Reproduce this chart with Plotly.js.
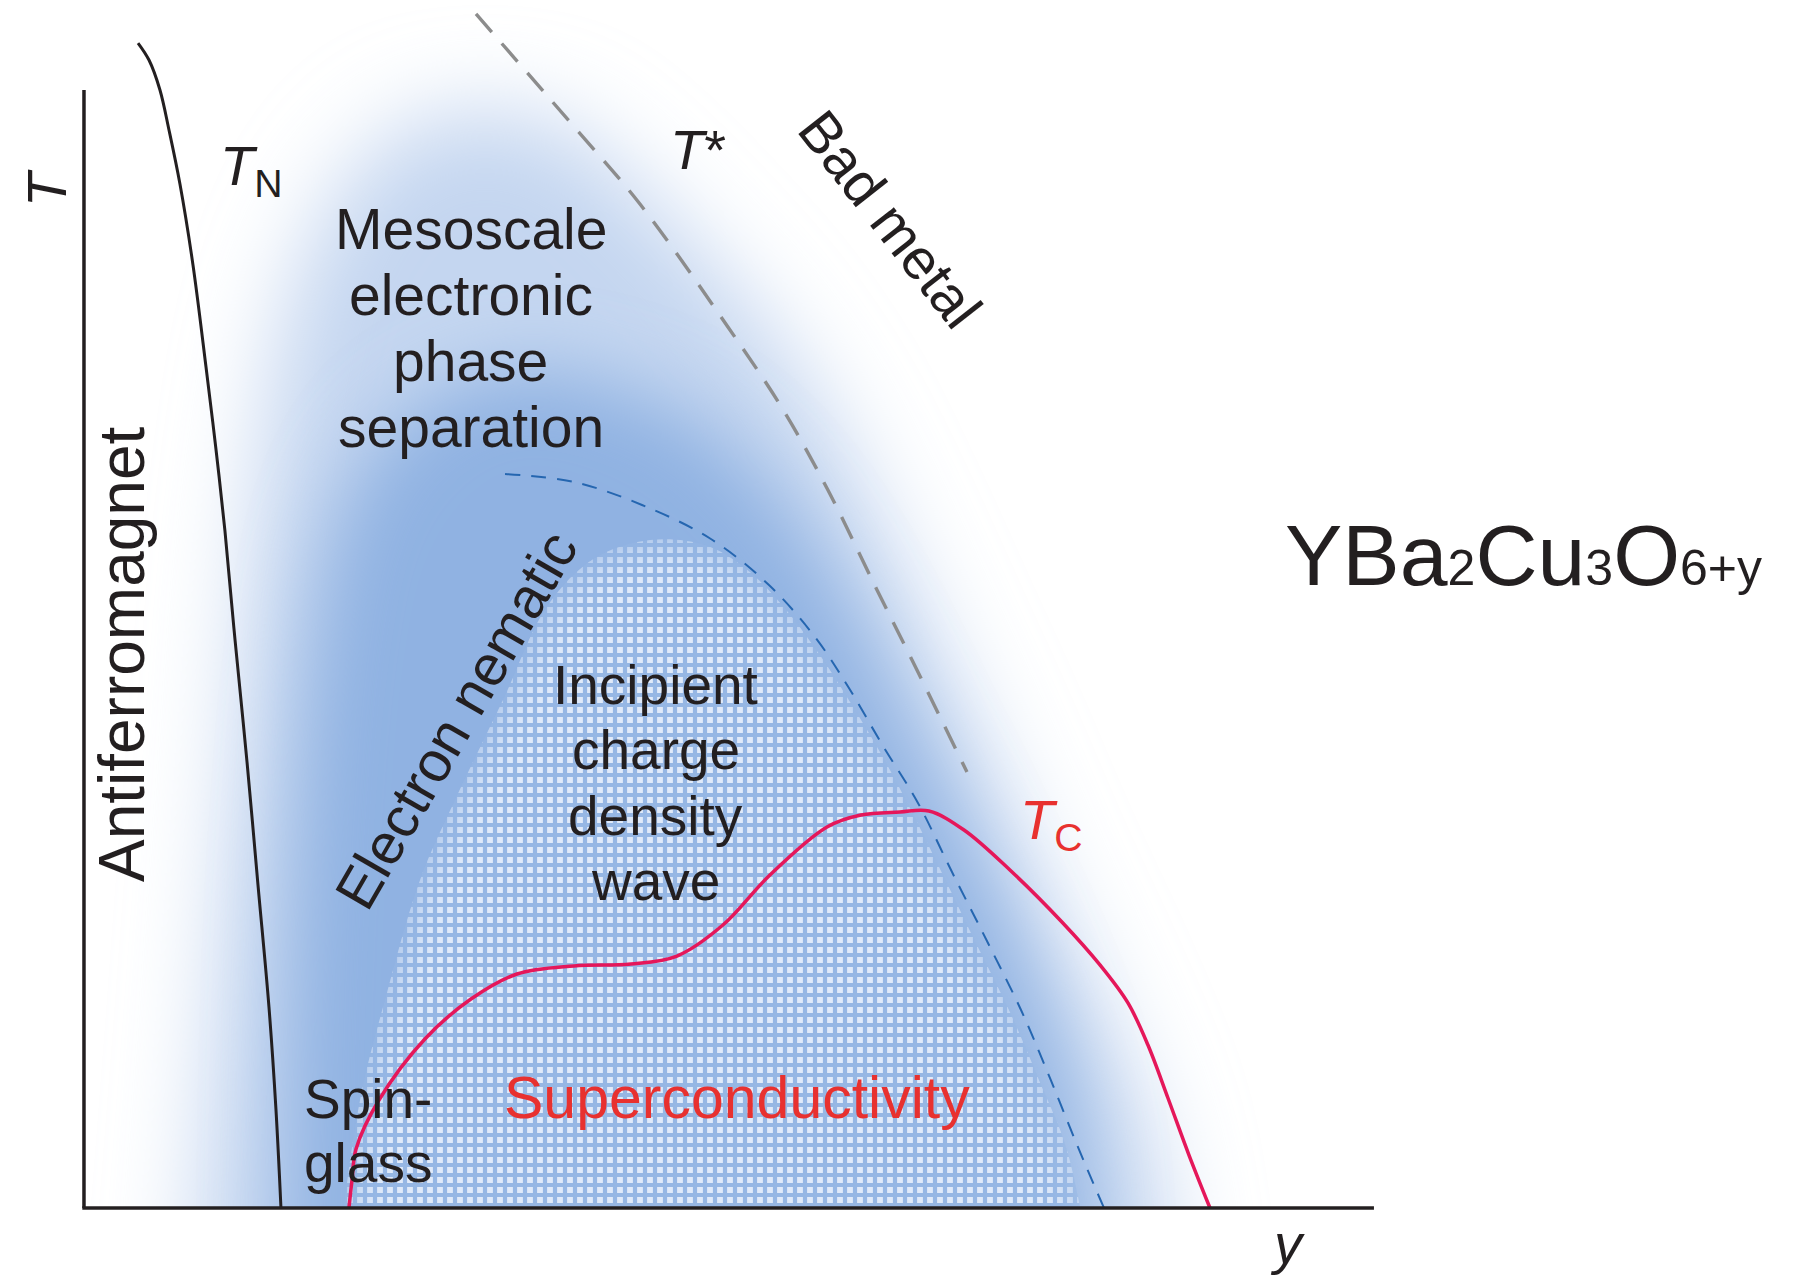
<!DOCTYPE html>
<html>
<head>
<meta charset="utf-8">
<script src="https://cdn.plot.ly/plotly-3.0.1.min.js"></script>
<style>
  html, body { margin: 0; padding: 0; background: #ffffff; }
  #chart { width: 1799px; height: 1279px; }
</style>
</head>
<body>
<div id="chart"></div>
<script>
// Schematic phase diagram of YBa2Cu3O6+y.
// Horizontal coordinate: doping y as a fraction of the drawn axis length.
// Vertical coordinate: temperature T as a fraction of the drawn axis height.

// Neel temperature T_N
const tnDoping = [0.0419, 0.0504, 0.0589, 0.0659, 0.0744, 0.0845, 0.0946, 0.1023, 0.1093, 0.1171, 0.1264, 0.1349, 0.1434, 0.1488, 0.1527];
const tnTemp   = [1.0420, 1.0268, 1.0000, 0.9642, 0.9159, 0.8435, 0.7522, 0.6789, 0.6055, 0.5081, 0.3989, 0.2889, 0.1798, 0.0886, 0.0000];

// Pseudogap crossover T*
const tStarDoping = [0.3039, 0.3767, 0.4310, 0.4992, 0.5411, 0.5767, 0.6140, 0.6419, 0.6845];
const tStarTemp   = [1.0680, 0.9714, 0.8980, 0.7880, 0.7156, 0.6422, 0.5546, 0.4902, 0.3900];

// Charge density wave dome (blue dashed)
const cdwDoping = [0.3264, 0.3798, 0.4326, 0.4860, 0.5310, 0.5667, 0.5930, 0.6194, 0.6465, 0.6729, 0.7000, 0.7264, 0.7488, 0.7705, 0.7907];
const cdwTemp   = [0.6565, 0.6494, 0.6288, 0.5984, 0.5572, 0.5107, 0.4651, 0.4132, 0.3623, 0.3005, 0.2388, 0.1771, 0.1163, 0.0546, 0.0000];

// Superconducting transition T_c
const tcDoping = [0.2054, 0.2078, 0.2109, 0.2287, 0.2643, 0.3000, 0.3357, 0.3798, 0.4240, 0.4597, 0.4953, 0.5310, 0.5760, 0.6023, 0.6326, 0.6550, 0.6822, 0.7178, 0.7581, 0.7876, 0.8093, 0.8248, 0.8403, 0.8566, 0.8729];
const tcTemp   = [0.0000, 0.0250, 0.0528, 0.0966, 0.1512, 0.1869, 0.2093, 0.2165, 0.2182, 0.2254, 0.2531, 0.2970, 0.3408, 0.3515, 0.3542, 0.3551, 0.3381, 0.3023, 0.2558, 0.2174, 0.1834, 0.1458, 0.0984, 0.0474, 0.0000];

// Outline of the diffuse electronic phase-separation region (outer glow)
const hazeDoping = [0.0822, 0.1016, 0.1132, 0.1326, 0.1597, 0.1984, 0.2527, 0.3147, 0.3690, 0.4155, 0.4775, 0.5318, 0.5783, 0.6171, 0.6558, 0.6946, 0.7411, 0.7876, 0.8264, 0.8457];
const hazeTemp   = [-0.100, 0.1860, 0.3649, 0.6333, 0.8122, 0.9106, 0.9687, 0.9821, 0.9687, 0.9284, 0.8569, 0.7853, 0.7048, 0.6154, 0.5170, 0.4186, 0.2934, 0.1771, 0.0608, -0.100];

// Denser core of the same region
const coreDoping = [0.1558, 0.1597, 0.1674, 0.1791, 0.1984, 0.2333, 0.2837, 0.3457, 0.4078, 0.4698, 0.5240, 0.5705, 0.6093, 0.6481, 0.6907, 0.7333, 0.7682, 0.7798];
const coreTemp   = [-0.100, 0.1860, 0.3649, 0.5081, 0.6154, 0.6869, 0.7317, 0.7496, 0.7361, 0.7048, 0.6512, 0.5796, 0.4991, 0.4097, 0.3113, 0.2039, 0.0877, -0.100];

// Region filled with the incipient charge-order texture
const cdwZoneDoping = [0.1946, 0.2140, 0.2333, 0.2605, 0.2876, 0.3248, 0.3597, 0.3961, 0.4388, 0.4814, 0.5124, 0.5411, 0.5705, 0.5953, 0.6171, 0.6403, 0.6659, 0.6922, 0.7178, 0.7403, 0.7620, 0.7814];
const cdwZoneTemp   = [-0.060, 0.0966, 0.1860, 0.2934, 0.3649, 0.4544, 0.5394, 0.5814, 0.5975, 0.5930, 0.5725, 0.5394, 0.4946, 0.4499, 0.4079, 0.3578, 0.2979, 0.2352, 0.1753, 0.1145, 0.0519, -0.060];

// Region labels
const mesoLines = ['Mesoscale', 'electronic', 'phase', 'separation'];
const cdwLines = ['Incipient', 'charge', 'density', 'wave'];
const spinLines = ['Spin-', 'glass'];

const INK = '#231f20';
const RED = '#e8312f';
const FONT = 'Liberation Sans, Arial, Helvetica, sans-serif';

const traces = [
  { type: 'scatter', mode: 'lines', x: hazeDoping, y: hazeTemp, fill: 'toself',
    fillcolor: 'rgb(196,214,240)', line: { width: 0, shape: 'spline', smoothing: 1 }, hoverinfo: 'skip' },
  { type: 'scatter', mode: 'lines', x: coreDoping, y: coreTemp, fill: 'toself',
    fillcolor: 'rgb(144,178,226)', line: { width: 0, shape: 'spline', smoothing: 1 }, hoverinfo: 'skip' },
  { type: 'scatter', mode: 'lines', x: cdwZoneDoping, y: cdwZoneTemp, fill: 'toself',
    fillcolor: 'rgba(0,0,0,0)',
    fillpattern: { shape: '+', size: 10, solidity: 0.66, fgcolor: 'rgb(150,183,228)', bgcolor: 'rgb(224,234,249)', fillmode: 'replace' },
    line: { width: 0, shape: 'spline', smoothing: 1 }, hoverinfo: 'skip' },
  { type: 'scatter', mode: 'lines', x: tnDoping, y: tnTemp,
    line: { color: INK, width: 3, shape: 'spline', smoothing: 1 } },
  { type: 'scatter', mode: 'lines', x: tStarDoping, y: tStarTemp,
    line: { color: '#8c8c8c', width: 3.4, dash: '24px,15px', shape: 'spline', smoothing: 1 } },
  { type: 'scatter', mode: 'lines', x: cdwDoping, y: cdwTemp,
    line: { color: '#2566b0', width: 2, dash: '15px,11px', shape: 'spline', smoothing: 1 } },
  { type: 'scatter', mode: 'lines', x: tcDoping, y: tcTemp,
    line: { color: '#e5175a', width: 3.5, shape: 'spline', smoothing: 1 } }
];

const annotations = [];
function label(text, x, y, size, opts) {
  annotations.push(Object.assign({
    text: text, x: x, y: y, xref: 'x', yref: 'y', showarrow: false,
    xanchor: 'center', yanchor: 'middle',
    font: { family: FONT, size: size, color: INK }
  }, opts || {}));
}
function stack(lines, x, yFirst, step, size, opts) {
  lines.forEach((t, i) => label(t, x, yFirst - i * step, size, opts));
}

label('<i>T</i>', -0.0295, 0.9123, 56, { textangle: -90 });
label('<i>y</i>', 0.9326, -0.0315, 56);
label('<i>T</i><sub>N</sub>', 0.1300, 0.9290, 56);
label('<i>T</i>*', 0.4760, 0.9470, 56);
label('Bad metal', 0.6250, 0.8845, 57, { textangle: 52 });
stack(mesoLines, 0.3000, 0.8757, 0.0590, 57);
label('Antiferromagnet', 0.0295, 0.4955, 64, { textangle: -90 });
label('Electron nematic', 0.2884, 0.4365, 57, { textangle: -60 });
stack(cdwLines, 0.4434, 0.4678, 0.0585, 55);
stack(spinLines, 0.2202, 0.0975, 0.0570, 55);
label('Superconductivity', 0.5062, 0.0984, 59, { font: { family: FONT, size: 59, color: RED } });
label('<i>T</i><sub>C</sub>', 0.7500, 0.3440, 56, { font: { family: FONT, size: 56, color: RED } });
label('YBa<span style="font-size:50px">2</span>Cu<span style="font-size:50px">3</span>O<span style="font-size:50px">6+y</span>',
      0.9295, 0.5841, 86, { xanchor: 'left' });

const shapes = [
  // keep the glow from spilling below the doping axis
  { type: 'rect', xref: 'x', yref: 'y', x0: -0.2, x1: 1.5, y0: -0.3, y1: 0, layer: 'above',
    fillcolor: '#ffffff', line: { width: 0 } },
  // axes
  { type: 'line', xref: 'x', yref: 'y', x0: 0, x1: 0, y0: 0, y1: 1, layer: 'above',
    line: { color: INK, width: 3.5 } },
  { type: 'line', xref: 'x', yref: 'y', x0: -0.0013, x1: 1, y0: 0, y1: 0, layer: 'above',
    line: { color: INK, width: 3.5 } }
];

const layout = {
  width: 1799, height: 1279,
  margin: { l: 0, r: 0, t: 0, b: 0, pad: 0 },
  paper_bgcolor: '#ffffff', plot_bgcolor: '#ffffff',
  showlegend: false,
  font: { family: FONT, color: INK },
  xaxis: { range: [-0.0651, 1.3295], visible: false, fixedrange: true },
  yaxis: { range: [-0.0635, 1.0805], visible: false, fixedrange: true },
  shapes: shapes,
  annotations: annotations
};

const gd = document.getElementById('chart');
Plotly.newPlot(gd, traces, layout, { staticPlot: true, displayModeBar: false }).then(() => {
  const NS = 'http://www.w3.org/2000/svg';
  const defs = gd.querySelector('svg.main-svg defs');
  function blurFilter(id, sd) {
    const f = document.createElementNS(NS, 'filter');
    f.setAttribute('id', id);
    f.setAttribute('filterUnits', 'userSpaceOnUse');
    f.setAttribute('x', '-400'); f.setAttribute('y', '-400');
    f.setAttribute('width', '2600'); f.setAttribute('height', '2100');
    const b = document.createElementNS(NS, 'feGaussianBlur');
    b.setAttribute('stdDeviation', sd);
    f.appendChild(b);
    defs.appendChild(f);
  }
  blurFilter('glowOuter', 45);
  blurFilter('glowCore', 38);
  blurFilter('textureEdge', 20);

  const groups = gd.querySelectorAll('.scatterlayer .trace');
  groups[0].setAttribute('filter', 'url(#glowOuter)');
  groups[1].setAttribute('filter', 'url(#glowCore)');

  // soften the border of the textured dome with a blurred copy of its own outline
  const fillPath = groups[2].querySelector('.js-fill');
  if (fillPath) {
    const mask = document.createElementNS(NS, 'mask');
    mask.setAttribute('id', 'textureMask');
    mask.setAttribute('maskUnits', 'userSpaceOnUse');
    mask.setAttribute('x', '-400'); mask.setAttribute('y', '-400');
    mask.setAttribute('width', '2600'); mask.setAttribute('height', '2100');
    const p = document.createElementNS(NS, 'path');
    p.setAttribute('d', fillPath.getAttribute('d'));
    p.setAttribute('fill', '#ffffff');
    p.setAttribute('filter', 'url(#textureEdge)');
    mask.appendChild(p);
    defs.appendChild(mask);
    fillPath.setAttribute('mask', 'url(#textureMask)');
  }
});
</script>
</body>
</html>
